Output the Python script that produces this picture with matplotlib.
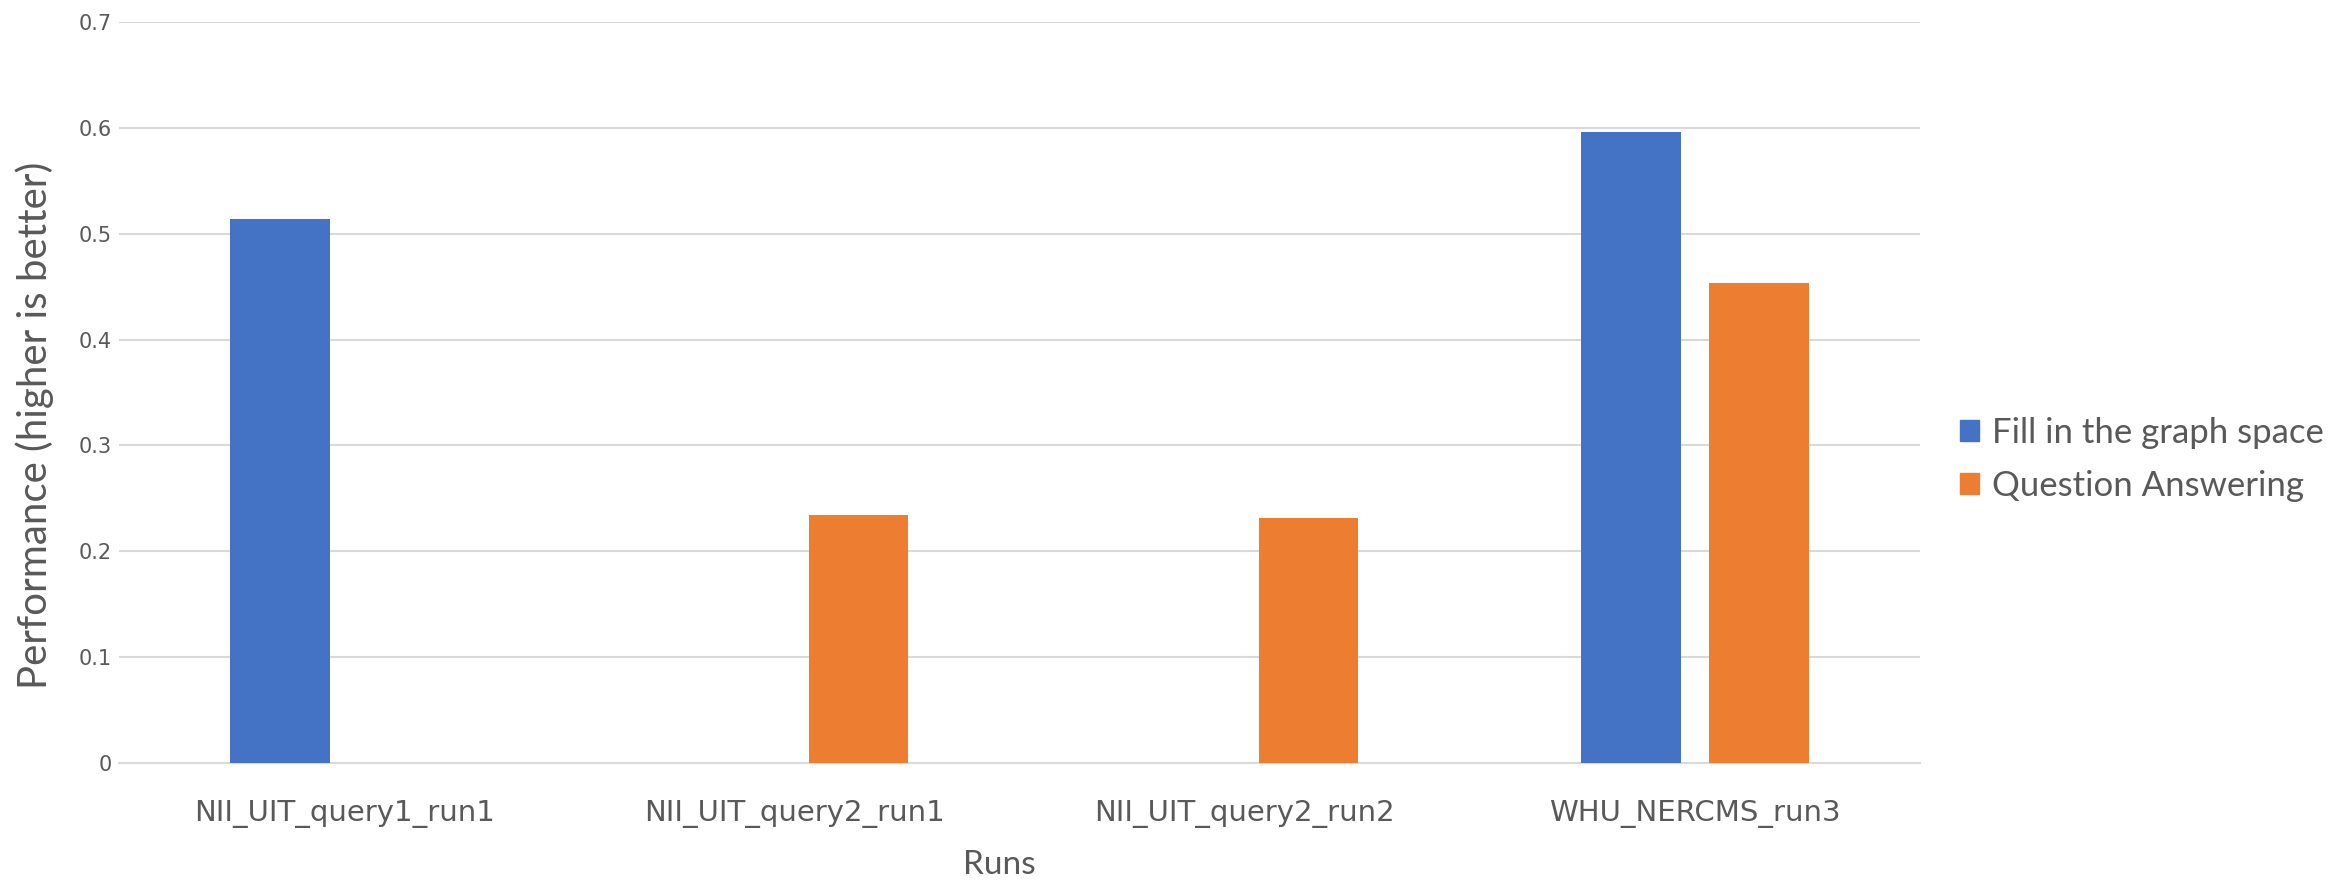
import numpy as np
import matplotlib
matplotlib.use("Agg")
import matplotlib.pyplot as plt

runs = ["NII_UIT_query1_run1", "NII_UIT_query2_run1", "NII_UIT_query2_run2", "WHU_NERCMS_run3"]
series_names = ["Fill in the graph space", "Question Answering"]
fill_graph = [0.514, np.nan, np.nan, 0.596]
question_answering = [np.nan, 0.2344, 0.2312, 0.4534]
yticks = [0, 0.1, 0.2, 0.3, 0.4, 0.5, 0.6, 0.7]

blue = "#4472C4"
orange = "#ED7D31"
text_col = "#595959"

fig = plt.figure(figsize=(23.33, 8.85), dpi=100)
ax = fig.add_axes([0.051, 0.138, 0.772, 0.837])

x = np.arange(len(runs))
width = 0.221
offset = 0.142

# each series keeps its own slot inside a run, even when the other is missing
for i in range(len(runs)):
    if not np.isnan(fill_graph[i]):
        ax.bar(x[i] - offset, fill_graph[i], width, color=blue, zorder=3)
    if not np.isnan(question_answering[i]):
        ax.bar(x[i] + offset, question_answering[i], width, color=orange, zorder=3)

ax.set_xlim(-0.5, len(runs) - 0.5)
ax.set_ylim(0, 0.7)
ax.set_yticks(yticks)
ax.set_yticklabels(["0" if t == 0 else f"{t:.1f}" for t in yticks])
ax.set_xticks(x)
ax.set_xticklabels(runs)

ax.grid(axis="y", color="#D9D9D9", linewidth=1.5, zorder=0)
for side in ["top", "right", "left"]:
    ax.spines[side].set_visible(False)
ax.spines["bottom"].set_color("#D9D9D9")
ax.spines["bottom"].set_linewidth(1.5)
ax.tick_params(axis="both", length=0, colors=text_col)
ax.tick_params(axis="y", labelsize=15, pad=5)
ax.tick_params(axis="x", labelsize=21, pad=27)

ax.set_xlabel("Runs", fontsize=24, family="Lato", color=text_col)
ax.xaxis.set_label_coords(0.489, -0.118)
ax.set_ylabel("Performance (higher is better)", fontsize=29, family="Lato", color=text_col)
ax.yaxis.set_label_coords(-0.036, 0.455)

handles = [plt.Rectangle((0, 0), 1, 1, color=blue), plt.Rectangle((0, 0), 1, 1, color=orange)]
ax.legend(handles, series_names, loc="center left", bbox_to_anchor=(1.005, 0.41),
          frameon=False, prop={"family": "Lato", "size": 25}, labelcolor=text_col,
          handlelength=0.55, handleheight=0.55, handletextpad=0.35, labelspacing=0.6)

fig.savefig("out.png", dpi=100, facecolor="white")
